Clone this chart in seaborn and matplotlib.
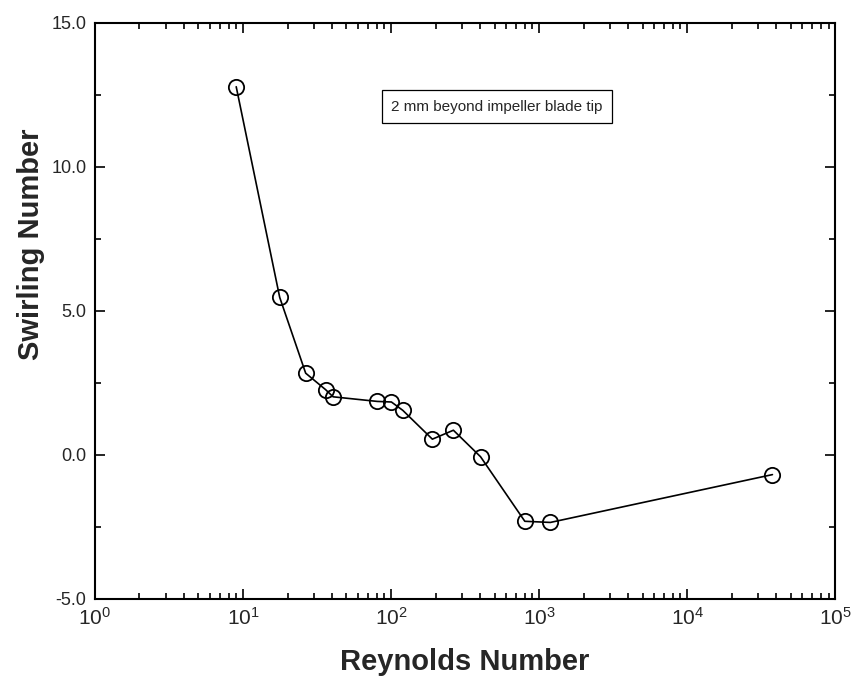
import matplotlib
matplotlib.use("Agg")
import matplotlib.pyplot as plt
import seaborn as sns
import pandas as pd
from matplotlib.ticker import LogLocator, MultipleLocator, FormatStrFormatter

reynolds = [9.0, 17.7, 26.5, 36.1, 40.6, 80.7, 100.5, 120.0, 190.0, 263.5,
            402.0, 800.0, 1190.0, 37600.0]
swirling = [12.77, 5.46, 2.83, 2.26, 2.01, 1.85, 1.83, 1.54, 0.54, 0.85,
            -0.07, -2.31, -2.35, -0.69]
annotation = "2 mm beyond impeller blade tip"
x_label = "Reynolds Number"
y_label = "Swirling Number"

df = pd.DataFrame({"Re": reynolds, "S": swirling})

sns.set_style("ticks")
plt.rcParams["font.family"] = ["Liberation Sans", "DejaVu Sans"]
plt.rcParams["mathtext.fontset"] = "custom"
plt.rcParams["mathtext.rm"] = "Liberation Sans"

fig = plt.figure(figsize=(8.55, 6.82), dpi=100)
ax = fig.add_axes([0.111, 0.122, 0.866, 0.845])

sns.lineplot(data=df, x="Re", y="S", ax=ax, color="black", linewidth=1.2,
             marker="o", markersize=11, markerfacecolor="none",
             markeredgecolor="black", markeredgewidth=1.3, sort=False,
             estimator=None)

ax.set_xscale("log")
ax.set_xlim(1, 1e5)
ax.set_ylim(-5, 15)
ax.xaxis.set_major_locator(LogLocator(base=10, numticks=10))
ax.xaxis.set_minor_locator(LogLocator(base=10, subs=range(2, 10), numticks=50))
ax.yaxis.set_major_locator(MultipleLocator(5))
ax.yaxis.set_minor_locator(MultipleLocator(2.5))
ax.yaxis.set_major_formatter(FormatStrFormatter("%.1f"))

ax.tick_params(which="both", direction="in", top=True, right=True,
               color="black", width=1.2)
ax.tick_params(which="major", length=7, pad=6)
ax.tick_params(axis="x", which="major", labelsize=15)
ax.tick_params(axis="y", which="major", labelsize=13)
ax.tick_params(which="minor", length=4)
for s in ax.spines.values():
    s.set_linewidth(1.5)
    s.set_color("black")

ax.set_xlabel(x_label, fontsize=21, fontweight="bold", labelpad=14)
ax.set_ylabel(y_label, fontsize=21, fontweight="bold", labelpad=4)
ax.yaxis.set_label_coords(-0.068, 0.615)

ax.text(0.543, 0.854, annotation, transform=ax.transAxes, fontsize=11,
        ha="center", va="center",
        bbox=dict(boxstyle="square,pad=0.6", facecolor="white",
                  edgecolor="black", linewidth=0.9))

fig.savefig("out.png", dpi=100)
